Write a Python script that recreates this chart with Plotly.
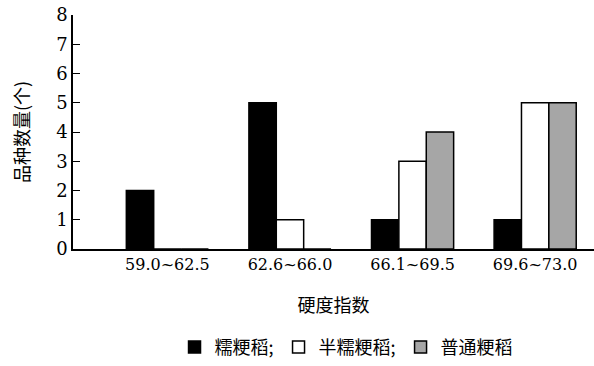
import plotly.graph_objects as go

categories = ["59.0~62.5", "62.6~66.0", "66.1~69.5", "69.6~73.0"]
series_names = ["糯粳稻;", "半糯粳稻;", "普通粳稻"]
glutinous = [2, 5, 1, 1]
semi_glutinous = [0, 1, 3, 5]
ordinary = [0, 0, 4, 5]
y_ticks = [0, 1, 2, 3, 4, 5, 6, 7, 8]

FONT = "DejaVu Serif"
CJK = "Noto Sans CJK SC"

colors = ["#000000", "#ffffff", "#a6a6a6"]
values = [glutinous, semi_glutinous, ordinary]

fig = go.Figure()
for name, vals, col in zip(series_names, values, colors):
    fig.add_trace(go.Bar(
        x=categories, y=vals, name=name,
        marker=dict(color=col, line=dict(color="#000000", width=1.5)),
    ))

fig.update_layout(
    width=594, height=366,
    margin=dict(l=73, r=0, t=15, b=113),
    paper_bgcolor="white", plot_bgcolor="white",
    barmode="group", bargap=0.33, bargroupgap=0,
    font=dict(family=FONT, size=16, color="#000000"),
    showlegend=True,
    legend=dict(
        orientation="h", x=0.525, xanchor="center", y=-0.42, yanchor="middle",
        font=dict(family=CJK, size=18, color="#000000"),
        itemwidth=30, tracegroupgap=0, traceorder="normal",
        bgcolor="rgba(0,0,0,0)",
    ),
)

fig.update_xaxes(
    type="category", range=[-0.77, 3.48], automargin=False,
    showline=True, linecolor="#000000", linewidth=1.5,
    ticks="", showgrid=False, zeroline=False,
    tickfont=dict(family=FONT, size=16),
    title=dict(text="硬度指数", font=dict(family=CJK, size=18), standoff=26),
)
fig.update_yaxes(
    range=[0, 8], tickvals=y_ticks, automargin=False,
    showline=True, linecolor="#000000", linewidth=1.5,
    ticks="inside", ticklen=7, tickwidth=1.2, tickcolor="#000000",
    showgrid=False, zeroline=False,
    tickfont=dict(family=FONT, size=18),
    title=dict(text="品种数量(个)", font=dict(family=CJK, size=18), standoff=22),
)

fig.write_html("out.html")
